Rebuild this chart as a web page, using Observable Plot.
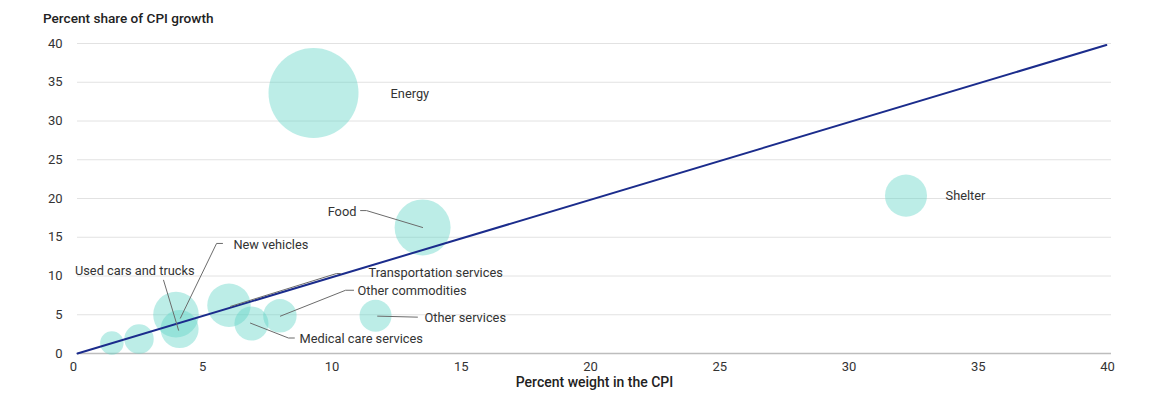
<!DOCTYPE html>
<html>
<head>
<meta charset="utf-8">
<script src="https://cdn.jsdelivr.net/npm/d3@7"></script>
<script src="https://cdn.jsdelivr.net/npm/@observablehq/plot@0.6"></script>
<style>
  body { margin: 0; background: #fff; font-family: Roboto, "Noto Sans", sans-serif; }
  #title { height: 20px; padding-top: 10px; padding-left: 43px; font-size: 13.6px; font-weight: 500; line-height: 16px; color: #222; }
</style>
</head>
<body>
<div id="title">Percent share of CPI growth</div>
<div id="chart"></div>
<script>
// Categories and values (x = percent weight in CPI, y = percent share of CPI growth)
const categories = ["Small item A", "Small item B", "New vehicles", "Used cars and trucks", "Transportation services",
  "Medical care services", "Other commodities", "Other services", "Food", "Energy", "Shelter"];
const weight = [1.33, 2.38, 3.81, 3.95, 5.86, 6.73, 7.83, 11.53, 13.35, 9.13, 32.05];
const share  = [1.35, 1.86, 5.01, 3.15, 6.23, 3.86, 4.86, 4.88, 16.26, 33.61, 20.37];
const bubbleSize = [6.8, 10.7, 25.7, 17.8, 23.3, 14.3, 13.8, 12.6, 38.7, 100, 21.8];

// Label annotations (data coordinates)
const labelText = ["Energy", "Shelter", "Food", "New vehicles", "Used cars and trucks", "Transportation services",
  "Other commodities", "Other services", "Medical care services"];
const labelX = [12.11, 33.58, 10.79, 6.03, 4.53, 11.26, 10.83, 13.42, 8.59];
const labelY = [33.5, 20.37, 18.32, 14.07, 10.6, 10.35, 8.03, 4.56, 1.86];
const labelAnchor = ["start", "start", "end", "start", "end", "start", "start", "start", "start"];

// Leader lines (data coordinates)
const leaderLines = [
  [[13.35, 16.26], [11.18, 18.44], [10.95, 18.44]],
  [[3.98, 4.56], [5.38, 14.20], [5.61, 14.20]],
  [[3.91, 3.0], [3.33, 9.45]],
  [[5.92, 6.08], [10.02, 10.32], [10.17, 10.32]],
  [[7.85, 4.82], [10.37, 8.16], [10.68, 8.16]],
  [[6.69, 3.92], [8.16, 2.0], [8.39, 2.0]],
  [[11.61, 4.82], [13.15, 4.69]]
];

// Reference line (equal weight and share)
const refX = [0, 39.8];
const refY = [0, 39.8];

const xTicks = [0, 5, 10, 15, 20, 25, 30, 35, 40];
const yTicks = [0, 5, 10, 15, 20, 25, 30, 35, 40];
const xLabel = "Percent weight in the CPI";

const bubbles = categories.map((c, i) => ({name: c, x: weight[i], y: share[i], s: bubbleSize[i]}));
const labels = labelText.map((t, i) => ({t, x: labelX[i], y: labelY[i], a: labelAnchor[i]}));
const leaders = leaderLines.flatMap((pts, k) => pts.map(p => ({k, x: p[0], y: p[1]})));
const ref = refX.map((x, i) => ({x, y: refY[i]}));

const plot = Plot.plot({
  width: 1160,
  height: 370,
  marginTop: 13,
  marginBottom: 47,
  marginLeft: 77,
  marginRight: 49,
  style: {fontFamily: "Roboto, sans-serif", fontSize: "13px", color: "#333", background: "#fff"},
  x: {domain: [0, 40]},
  y: {domain: [0, 40]},
  r: {type: "sqrt", domain: [0, 100], range: [0, 45]},
  marks: [
    Plot.gridY(yTicks, {stroke: "#e2e2e2", strokeOpacity: 1}),
    Plot.ruleY([0], {stroke: "#bdbdbd", strokeWidth: 1.5}),
    Plot.axisX(xTicks, {tickSize: 0, tickPadding: 8, label: null, dx: -4, fill: "#333"}),
    Plot.axisY(yTicks, {tickSize: 0, tickPadding: 15, label: null, fill: "#333"}),
    Plot.dot(bubbles, {x: "x", y: "y", r: "s", fill: "#5fd4c6", fillOpacity: 0.42, stroke: "none"}),
    Plot.line(ref, {x: "x", y: "y", stroke: "#1b2c8c", strokeWidth: 2}),
    Plot.line(leaders, {x: "x", y: "y", z: "k", stroke: "#6b6b6b", strokeWidth: 1}),
    Plot.text(labels.filter(d => d.a === "start"), {x: "x", y: "y", text: "t", textAnchor: "start", fontSize: 12.8, fill: "#333"}),
    Plot.text(labels.filter(d => d.a === "end"), {x: "x", y: "y", text: "t", textAnchor: "end", fontSize: 12.8, fill: "#333"}),
    Plot.text([xLabel], {text: d => d, frameAnchor: "bottom", dy: 33, fontSize: 14, fontWeight: 500, fill: "#222"})
  ]
});
document.getElementById("chart").appendChild(plot);
</script>
</body>
</html>
